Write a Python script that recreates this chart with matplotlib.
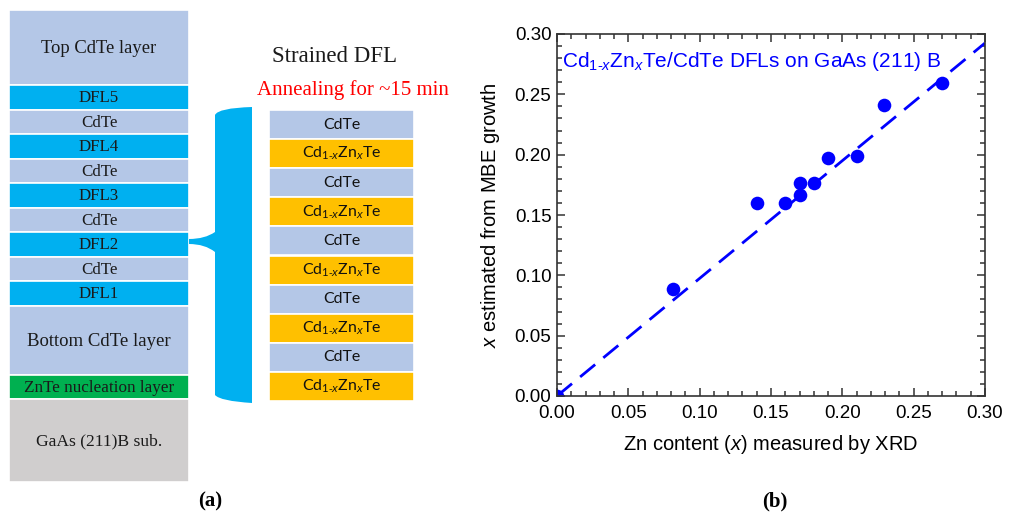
import matplotlib.pyplot as plt
import numpy as np
from matplotlib.patches import Rectangle, PathPatch
from matplotlib.path import Path
from matplotlib.ticker import MultipleLocator

plt.rcParams['mathtext.fontset'] = 'custom'
plt.rcParams['mathtext.rm'] = 'Liberation Sans'
plt.rcParams['mathtext.it'] = 'Liberation Sans:italic'

# ---- panel (a): layer stacks (top to bottom) ----
stack_names = ["Top CdTe layer", "DFL5", "CdTe", "DFL4", "CdTe", "DFL3", "CdTe",
               "DFL2", "CdTe", "DFL1", "Bottom CdTe layer",
               "ZnTe nucleation layer", "GaAs (211)B sub."]
stack_heights = [75, 24.5, 24.5, 24.5, 24.5, 24.5, 24.5, 24.5, 24.5, 24.5, 69, 24, 83]
stack_colors = ["#B4C7E7", "#00B0F0", "#B4C7E7", "#00B0F0", "#B4C7E7", "#00B0F0",
                "#B4C7E7", "#00B0F0", "#B4C7E7", "#00B0F0", "#B4C7E7",
                "#00B050", "#D0CECE"]
stack_fs = [13.4, 12.2, 12.2, 12.2, 12.2, 12.2, 12.2, 12.2, 12.2, 12.2, 13.5, 12.3, 12.6]

CZT = r"$\mathregular{Cd}_{\mathregular{1\text{-}}x}\mathregular{Zn}_{x}\mathregular{Te}$"
dfl_names = ["CdTe", CZT] * 5
dfl_colors = ["#B4C7E7", "#FFC000"] * 5
dfl_height = 29.1

# ---- panel (b): Zn content ----
x_xrd = [0.0, 0.0815, 0.14, 0.16, 0.17, 0.17, 0.18, 0.19, 0.21, 0.229, 0.27]
x_mbe = [0.0, 0.0885, 0.160, 0.160, 0.1767, 0.1665, 0.1767, 0.197, 0.199, 0.241, 0.259]
fit_slope = 0.975

W, H = 1031, 516
fig = plt.figure(figsize=(W / 100, H / 100), dpi=100)

# overlay axes in pixel coordinates for the diagram
ax0 = fig.add_axes([0, 0, 1, 1])
ax0.set_xlim(0, W)
ax0.set_ylim(H, 0)
ax0.axis("off")

serif = "Liberation Serif"
y = 10
for name, h, c, fs in zip(stack_names, stack_heights, stack_colors, stack_fs):
    ax0.add_patch(Rectangle((9, y), 180, h, facecolor=c, edgecolor="white", lw=1.2))
    ax0.text(99, y + h / 2 + 1, name, ha="center", va="center",
             family=serif, fontsize=fs, color="#1a1a1a")
    y += h

y = 110
for name, c in zip(dfl_names, dfl_colors):
    ax0.add_patch(Rectangle((269, y), 145, dfl_height, facecolor=c,
                            edgecolor="white", lw=1.2))
    ax0.text(341.5, y + dfl_height / 2, name, ha="center", va="center",
             family="Lato", fontsize=11.4, color="#111111")
    y += dfl_height

# brace
verts = [(252, 107), (252, 403), (220, 401), (215, 395), (215, 252),
         (205, 244), (189, 244), (189, 239), (205, 239), (215, 232),
         (215, 115), (218, 108), (252, 107), (252, 107)]
codes = [Path.MOVETO, Path.LINETO, Path.CURVE3, Path.CURVE3, Path.LINETO,
         Path.CURVE3, Path.CURVE3, Path.LINETO, Path.CURVE3, Path.CURVE3,
         Path.LINETO, Path.CURVE3, Path.CURVE3, Path.CLOSEPOLY]
ax0.add_patch(PathPatch(Path(verts, codes), facecolor="#00B0F0", edgecolor="none"))

ax0.text(335, 57, "Strained DFL", ha="center", va="center", family=serif,
         fontsize=16.5, color="#1a1a1a")
ax0.text(353, 90, "Annealing for ~15 min", ha="center", va="center", family=serif,
         fontsize=15, color="#FF0000")
ax0.text(210, 501, "(a)", ha="center", va="center", family=serif,
         fontsize=15, fontweight="bold")
ax0.text(775, 501, "(b)", ha="center", va="center", family=serif,
         fontsize=15, fontweight="bold")

# ---- scatter ----
ax = fig.add_axes([557 / W, (H - 396) / H, 428 / W, 362 / H])
sans = "Liberation Sans"
xfit = np.array([0.0, 0.3])
ax.plot(xfit, fit_slope * xfit, color="#0000FF", lw=2.0, ls=(0, (7, 3.8)))
ax.plot(x_xrd, x_mbe, "o", color="#0000FF", ms=9.8, mec="none", clip_on=True)

ax.set_xlim(0, 0.3)
ax.set_ylim(0, 0.3)
ax.xaxis.set_major_locator(MultipleLocator(0.05))
ax.yaxis.set_major_locator(MultipleLocator(0.05))
ax.xaxis.set_minor_locator(MultipleLocator(0.01))
ax.yaxis.set_minor_locator(MultipleLocator(0.01))
ax.xaxis.set_major_formatter(lambda v, p: f"{v:.2f}")
ax.yaxis.set_major_formatter(lambda v, p: f"{v:.2f}")
ax.tick_params(which="both", direction="in", top=True, right=True,
               color="#333333", width=1.1)
ax.tick_params(which="major", length=6, labelsize=13.5, pad=4)
ax.tick_params(axis="x", which="major", pad=6.5)
ax.tick_params(which="minor", length=3.5)
for lab in ax.get_xticklabels() + ax.get_yticklabels():
    lab.set_family(sans)
for s in ax.spines.values():
    s.set_linewidth(1.2)
    s.set_color("#333333")

ax.set_xlabel("Zn content ($x$) measured by XRD", family=sans, fontsize=14.5,
              labelpad=8)
ax.set_ylabel("$x$ estimated from MBE growth", family=sans, fontsize=14.5,
              labelpad=9)
ax.text(0.012, 0.925,
        r"Cd$_{1\text{-}x}$Zn$_{x}$Te/CdTe DFLs on GaAs (211) B",
        transform=ax.transAxes, family=sans, fontsize=15, color="#0000FF",
        va="center", ha="left")

fig.savefig("out.png", dpi=100)
